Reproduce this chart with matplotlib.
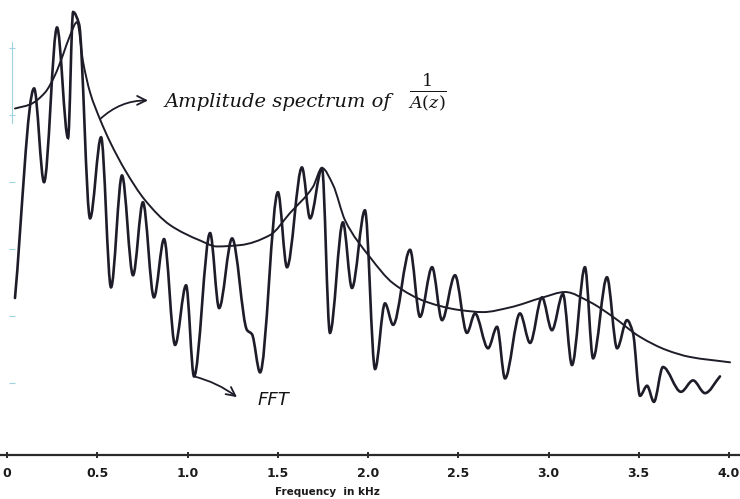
import numpy as np
import matplotlib
matplotlib.use('Agg')
import matplotlib.pyplot as plt
from matplotlib.path import Path
from matplotlib.patches import PathPatch

# FFT curve, frequency in kHz and amplitude (arbitrary units)
fft_freq = [0.044, 0.150, 0.205, 0.277, 0.338, 0.366, 0.399, 0.460, 0.521, 0.576,
            0.637, 0.698, 0.753, 0.814, 0.870, 0.931, 0.992, 1.036, 1.125, 1.175,
            1.247, 1.330, 1.357, 1.402, 1.501, 1.551, 1.634, 1.679, 1.745, 1.789,
            1.861, 1.911, 1.983, 2.039, 2.094, 2.139, 2.233, 2.288, 2.355, 2.410,
            2.482, 2.548, 2.593, 2.665, 2.715, 2.759, 2.842, 2.898, 2.964, 3.019,
            3.080, 3.130, 3.202, 3.247, 3.324, 3.380, 3.435, 3.468, 3.507, 3.546,
            3.584, 3.634, 3.734, 3.801, 3.867, 3.950]
fft_amp = [22.7, 54.0, 40.0, 63.1, 46.6, 65.4, 63.6, 34.6, 46.7, 24.3,
           41.0, 26.1, 37.0, 22.8, 31.5, 15.7, 24.6, 11.0, 32.4, 21.2,
           31.6, 17.9, 17.3, 11.6, 38.5, 27.3, 42.2, 34.6, 42.1, 17.5,
           34.0, 24.2, 35.8, 12.1, 21.9, 18.7, 29.9, 19.9, 27.3, 19.4,
           26.1, 17.5, 20.4, 15.2, 18.4, 10.7, 20.4, 16.0, 22.8, 17.9,
           23.3, 12.7, 27.3, 13.7, 25.8, 15.2, 19.4, 17.5, 8.1, 9.6,
           7.2, 12.4, 8.7, 10.4, 8.5, 11.0]

# smooth amplitude spectrum of 1/A(z)
env_freq = [0.044, 0.127, 0.211, 0.266, 0.310, 0.349, 0.388, 0.421, 0.460, 0.515,
            0.571, 0.654, 0.765, 0.903, 1.069, 1.163, 1.291, 1.457, 1.568, 1.695,
            1.745, 1.806, 1.873, 2.011, 2.139, 2.327, 2.510, 2.637, 2.787, 2.970,
            3.091, 3.230, 3.357, 3.507, 3.657, 3.784, 4.006]
env_amp = [51.0, 51.6, 53.4, 56.0, 59.0, 61.9, 63.9, 58.0, 53.4, 49.4,
           46.0, 41.8, 37.3, 33.6, 31.3, 30.4, 30.6, 32.1, 35.4, 39.3,
           42.1, 39.6, 34.3, 28.8, 24.9, 22.1, 20.9, 20.6, 21.3, 22.8,
           23.6, 22.1, 19.9, 16.9, 14.9, 13.9, 13.1]

tick_freqs = [0, 0.5, 1.0, 1.5, 2.0, 2.5, 3.0, 3.5, 4.0]
tick_labels = ['0', '0.5', '1.0', '1.5', '2.0', '2.5', '3.0', '3.5', '4.0']
amp_ticks = [10, 20, 30, 40, 50, 60]


def smooth_path(x, y):
    # piecewise cubic bezier through the read points (monotone hermite slopes)
    x = np.asarray(x, float)
    y = np.asarray(y, float)
    h = np.diff(x)
    d = np.diff(y) / h
    m = np.zeros_like(y)
    m[0], m[-1] = d[0], d[-1]
    for k in range(1, len(x) - 1):
        if d[k - 1] * d[k] > 0:
            w1 = 2 * h[k] + h[k - 1]
            w2 = h[k] + 2 * h[k - 1]
            m[k] = (w1 + w2) / (w1 / d[k - 1] + w2 / d[k])
    verts = [(x[0], y[0])]
    codes = [Path.MOVETO]
    for k in range(len(h)):
        verts += [(x[k] + h[k] / 3, y[k] + m[k] * h[k] / 3),
                  (x[k + 1] - h[k] / 3, y[k + 1] - m[k + 1] * h[k] / 3),
                  (x[k + 1], y[k + 1])]
        codes += [Path.CURVE4] * 3
    return Path(verts, codes)


fig = plt.figure(figsize=(7.4, 4.99), dpi=100)
ax = fig.add_axes([0, 0.088, 1, 0.912])
ax.set_xlim(-0.039, 4.061)
ax.set_ylim(-0.75, 67.2)

ax.add_patch(PathPatch(smooth_path(fft_freq, fft_amp), fill=False,
                       edgecolor='#1e1c28', lw=1.9, capstyle='round'))
ax.add_patch(PathPatch(smooth_path(env_freq, env_amp), fill=False,
                       edgecolor='#1e1c28', lw=1.4, capstyle='round'))

for s in ['top', 'right']:
    ax.spines[s].set_visible(False)
ax.spines['bottom'].set_linewidth(1.6)
ax.spines['bottom'].set_color('#2a2a2a')
ax.spines['left'].set_position(('data', 0.028))
ax.spines['left'].set_bounds(48.8, 60.9)
ax.spines['left'].set_color('#9fd3e0')
ax.spines['left'].set_linewidth(0.8)

ax.set_xticks(tick_freqs)
ax.set_xticklabels(tick_labels, fontsize=9, fontweight='bold', color='#1a1a1a')
ax.tick_params(axis='x', direction='inout', length=5, width=1.3, pad=6, colors='#1a1a1a')
ax.set_yticks(amp_ticks)
ax.set_yticklabels([])
ax.tick_params(axis='y', direction='inout', length=4, width=0.8, color='#9fd3e0')

fig.text(327 / 740, 1 - 492 / 499, 'Frequency  in kHz', fontsize=7.5, fontweight='bold',
         ha='center', va='center', color='#1a1a1a')

ax.text(0.875, 51.2, 'Amplitude spectrum of', fontsize=14, family='DejaVu Serif',
        style='italic', ha='left', va='baseline', color='#151515')
plt.rcParams['mathtext.fontset'] = 'dejavuserif'
ax.text(2.33, 53.4, r'$\frac{1}{A(z)}$', fontsize=18, ha='center', va='center',
        color='#151515')
ax.text(1.474, 7.5, 'FFT', fontsize=13, style='oblique', ha='center', va='center',
        color='#151515')

ax.annotate('', xy=(0.781, 52.2), xytext=(env_freq[9], env_amp[9]),
            arrowprops=dict(arrowstyle='->', lw=1.3, color='#1e1c28',
                            connectionstyle='arc3,rad=-0.2', mutation_scale=16,
                            shrinkA=0, shrinkB=0))
ax.annotate('', xy=(1.274, 7.9), xytext=(fft_freq[17], fft_amp[17]),
            arrowprops=dict(arrowstyle='->', lw=1.3, color='#1e1c28',
                            connectionstyle='arc3,rad=-0.1', mutation_scale=16,
                            shrinkA=0, shrinkB=0))

fig.savefig('out.png', dpi=100)
